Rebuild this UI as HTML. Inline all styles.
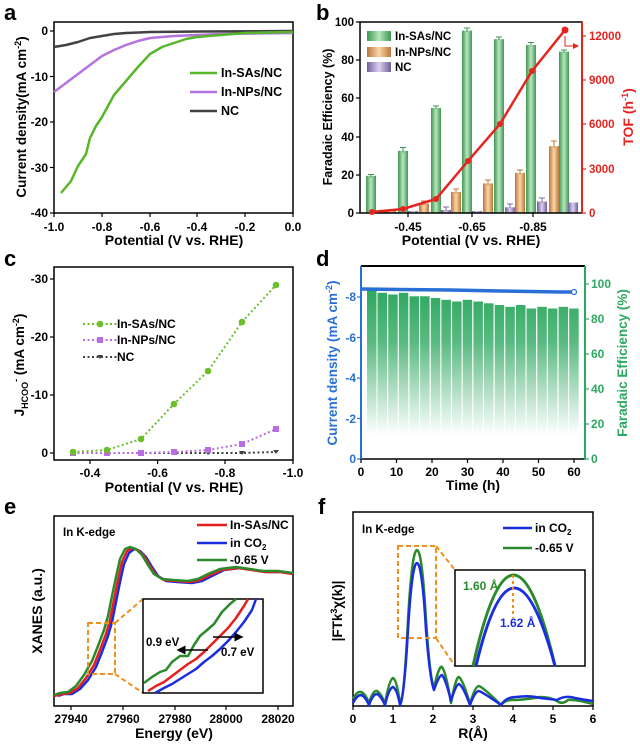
<!DOCTYPE html>
<html><head><meta charset="utf-8"><style>
html,body{margin:0;padding:0;background:#fff}
svg{display:block}
text{font-family:"Liberation Sans",Arial,sans-serif;font-weight:bold}
</style></head><body>
<svg width="640" height="747" viewBox="0 0 640 747" xmlns="http://www.w3.org/2000/svg">
<defs>
<linearGradient id="gG" x1="0" x2="1" y1="0" y2="0"><stop offset="0" stop-color="#3d9752"/><stop offset="0.5" stop-color="#b9e6bf"/><stop offset="1" stop-color="#3d9752"/></linearGradient>
<linearGradient id="gO" x1="0" x2="1" y1="0" y2="0"><stop offset="0" stop-color="#b8773b"/><stop offset="0.5" stop-color="#fcd5a8"/><stop offset="1" stop-color="#b8773b"/></linearGradient>
<linearGradient id="gP" x1="0" x2="1" y1="0" y2="0"><stop offset="0" stop-color="#6f5f98"/><stop offset="0.5" stop-color="#dcd0f0"/><stop offset="1" stop-color="#6f5f98"/></linearGradient>
<linearGradient id="gD" gradientUnits="userSpaceOnUse" x1="0" x2="0" y1="290" y2="435"><stop offset="0" stop-color="#2ea860" stop-opacity="1"/><stop offset="0.35" stop-color="#2ea860" stop-opacity="0.8"/><stop offset="1" stop-color="#2ea860" stop-opacity="0"/></linearGradient>
<marker id="ah" markerWidth="6" markerHeight="6" refX="5" refY="3" orient="auto"><path d="M0,0 L6,3 L0,6 z" fill="#000"/></marker>
<marker id="ahr" markerWidth="6" markerHeight="6" refX="5" refY="3" orient="auto"><path d="M0,0 L6,3 L0,6 z" fill="#e52420"/></marker>
</defs>

<!-- ================= Panel a ================= -->
<text x="4" y="20" font-size="22">a</text>
<g stroke="#000" stroke-width="1.5" fill="none">
<rect x="54" y="22" width="239" height="191"/>
</g>
<g stroke="#000" stroke-width="1.2">
<line x1="54" y1="31" x2="50" y2="31"/><line x1="54" y1="76.5" x2="50" y2="76.5"/><line x1="54" y1="122" x2="50" y2="122"/><line x1="54" y1="167.5" x2="50" y2="167.5"/><line x1="54" y1="213" x2="50" y2="213"/>
<line x1="54" y1="213" x2="54" y2="217"/><line x1="102" y1="213" x2="102" y2="217"/><line x1="150" y1="213" x2="150" y2="217"/><line x1="197" y1="213" x2="197" y2="217"/><line x1="245" y1="213" x2="245" y2="217"/><line x1="293" y1="213" x2="293" y2="217"/>
</g>
<g font-size="12" text-anchor="end">
<text x="48" y="35">0</text><text x="48" y="81">-10</text><text x="48" y="126">-20</text><text x="48" y="172">-30</text><text x="48" y="217">-40</text>
</g>
<g font-size="12" text-anchor="middle">
<text x="54" y="231">-1.0</text><text x="102" y="231">-0.8</text><text x="150" y="231">-0.6</text><text x="197" y="231">-0.4</text><text x="245" y="231">-0.2</text><text x="293" y="231">0.0</text>
</g>
<text x="174" y="245" font-size="14" text-anchor="middle">Potential (V vs. RHE)</text>
<text transform="translate(26,117) rotate(-90)" font-size="13.5" text-anchor="middle">Current density(mA cm<tspan dy="-5" font-size="9">-2</tspan><tspan dy="5">)</tspan></text>
<g fill="none" stroke-width="2.5" stroke-linejoin="round">
<polyline stroke="#424242" points="54,47 66,45 78,42 90,38 102,36 114,34 126,33 150,32 200,31.5 293,31"/>
<polyline stroke="#b473de" points="54,92 66,83 78,74 90,65 102,56 114,50 126,45 138,41 150,38 174,36 221,34 293,33"/>
<polyline stroke="#58b62a" points="61,193 71,181 78,166 82,160 86,154 90,138 96,126 102,117 108,106 114,95 126,81 138,67 150,54 162,47 174,43 186,39 197,37 221,35 245,33 293,32"/>
</g>
<g stroke-width="2.5"><line x1="190" y1="73" x2="217" y2="73" stroke="#58b62a"/><line x1="190" y1="92" x2="217" y2="92" stroke="#b473de"/><line x1="190" y1="111" x2="217" y2="111" stroke="#424242"/></g>
<g font-size="12.5"><text x="221" y="77">In-SAs/NC</text><text x="221" y="96">In-NPs/NC</text><text x="221" y="115">NC</text></g>

<!-- ================= Panel b ================= -->
<text x="316" y="20" font-size="22">b</text>
<!-- bars -->
<g>
<rect x="366" y="175.8" width="10" height="37.2" fill="url(#gG)"/>
<rect x="398" y="150.9" width="10" height="62.1" fill="url(#gG)"/>
<rect x="431" y="108" width="10" height="105" fill="url(#gG)"/>
<rect x="462" y="30.6" width="10" height="182.4" fill="url(#gG)"/>
<rect x="494" y="39.2" width="10" height="173.8" fill="url(#gG)"/>
<rect x="526" y="45" width="10" height="168" fill="url(#gG)"/>
<rect x="559" y="51.6" width="10" height="161.4" fill="url(#gG)"/>
<rect x="386" y="211" width="10" height="2" fill="url(#gO)"/>
<rect x="419" y="203.5" width="10" height="9.5" fill="url(#gO)"/>
<rect x="451" y="192" width="10" height="21" fill="url(#gO)"/>
<rect x="483" y="183.4" width="10" height="29.6" fill="url(#gO)"/>
<rect x="515" y="172.9" width="10" height="40.1" fill="url(#gO)"/>
<rect x="549" y="146.2" width="10" height="66.8" fill="url(#gO)"/>
<rect x="376" y="212" width="10" height="1" fill="url(#gP)"/>
<rect x="408" y="211" width="10" height="2" fill="url(#gP)"/>
<rect x="441" y="210" width="10" height="3" fill="url(#gP)"/>
<rect x="472" y="211" width="10" height="2" fill="url(#gP)"/>
<rect x="505" y="207.3" width="10" height="5.7" fill="url(#gP)"/>
<rect x="537" y="201.5" width="10" height="11.5" fill="url(#gP)"/>
<rect x="568" y="202.5" width="10" height="10.5" fill="url(#gP)"/>
</g>
<g stroke-width="1" fill="none">
<path stroke="#3d9752" d="M368,174.5h6M371,174.5v3M400,147.5h6M403,147.5v5M433,106h6M436,106v3M464,28h6M467,28v4M496,37h6M499,37v3M528,42.5h6M531,42.5v3M561,50h6M564,50v3"/>
<path stroke="#c07a3a" d="M421,201h6M424,201v4M453,189h6M456,189v4M485,180h6M488,180v5M517,170h6M520,170v4M551,141h6M554,141v7"/>
<path stroke="#7a6aa0" d="M507,204h6M510,204v4M539,198h6M542,198v5M443,207h6M446,207v4"/>
</g>
<rect x="360" y="22" width="222" height="191" fill="none" stroke="#000" stroke-width="1.5"/>
<line x1="582" y1="22" x2="582" y2="213" stroke="#e52420" stroke-width="2"/>
<g stroke="#000" stroke-width="1.2">
<line x1="360" y1="213" x2="356" y2="213"/><line x1="360" y1="175" x2="356" y2="175"/><line x1="360" y1="137" x2="356" y2="137"/><line x1="360" y1="98" x2="356" y2="98"/><line x1="360" y1="60" x2="356" y2="60"/><line x1="360" y1="22" x2="356" y2="22"/>
<line x1="408" y1="213" x2="408" y2="217"/><line x1="472" y1="213" x2="472" y2="217"/><line x1="533" y1="213" x2="533" y2="217"/>
</g>
<g stroke="#e52420" stroke-width="1.2">
<line x1="582" y1="213" x2="586" y2="213"/><line x1="582" y1="169" x2="586" y2="169"/><line x1="582" y1="124" x2="586" y2="124"/><line x1="582" y1="80" x2="586" y2="80"/><line x1="582" y1="36" x2="586" y2="36"/>
</g>
<g font-size="11.5" text-anchor="end">
<text x="354" y="217">0</text><text x="354" y="179">20</text><text x="354" y="141">40</text><text x="354" y="102">60</text><text x="354" y="64">80</text><text x="354" y="26">100</text>
</g>
<g font-size="11.5" fill="#e52420">
<text x="589" y="217">0</text><text x="589" y="173">3000</text><text x="589" y="128">6000</text><text x="589" y="84">9000</text><text x="589" y="40">12000</text>
</g>
<g font-size="12" text-anchor="middle">
<text x="408" y="231">-0.45</text><text x="472" y="231">-0.65</text><text x="533" y="231">-0.85</text>
</g>
<text x="471" y="245" font-size="14" text-anchor="middle">Potential (V vs. RHE)</text>
<text transform="translate(332,117) rotate(-90)" font-size="12.5" text-anchor="middle">Faradaic Efficiency (%)</text>
<text transform="translate(633,117) rotate(-90)" font-size="14" text-anchor="middle" fill="#e52420">TOF (h<tspan dy="-5" font-size="9">-1</tspan><tspan dy="5">)</tspan></text>
<polyline fill="none" stroke="#e52420" stroke-width="2.5" points="372,212 403,209 436,199 468,161 500,124 532,71 565,30"/>
<g fill="#e52420"><circle cx="372" cy="212" r="3"/><circle cx="403" cy="209" r="3"/><circle cx="436" cy="199" r="3"/><circle cx="468" cy="161" r="3"/><circle cx="500" cy="124" r="3"/><circle cx="532" cy="71" r="3"/><circle cx="565" cy="30" r="3.5"/></g>
<path d="M565,36 v10 h13" fill="none" stroke="#e52420" stroke-width="1" marker-end="url(#ahr)"/>
<rect x="367" y="31" width="24" height="10" fill="url(#gG)"/><rect x="367" y="47" width="24" height="10" fill="url(#gO)"/><rect x="367" y="62" width="24" height="10" fill="url(#gP)"/>
<g font-size="11.5"><text x="395" y="40">In-SAs/NC</text><text x="395" y="56">In-NPs/NC</text><text x="395" y="71">NC</text></g>

<!-- ================= Panel c ================= -->
<text x="4" y="266" font-size="22">c</text>
<rect x="54" y="267" width="239" height="193" fill="none" stroke="#000" stroke-width="1.5"/>
<g stroke="#000" stroke-width="1.2">
<line x1="54" y1="453" x2="50" y2="453"/><line x1="54" y1="395" x2="50" y2="395"/><line x1="54" y1="337" x2="50" y2="337"/><line x1="54" y1="279" x2="50" y2="279"/>
<line x1="90" y1="460" x2="90" y2="464"/><line x1="157.6" y1="460" x2="157.6" y2="464"/><line x1="225" y1="460" x2="225" y2="464"/><line x1="293" y1="460" x2="293" y2="464"/>
</g>
<g font-size="12" text-anchor="end">
<text x="48" y="457">0</text><text x="48" y="399">-10</text><text x="48" y="341">-20</text><text x="48" y="283">-30</text>
</g>
<g font-size="12" text-anchor="middle">
<text x="90" y="477">-0.4</text><text x="157.6" y="477">-0.6</text><text x="225" y="477">-0.8</text><text x="293" y="477">-1.0</text>
</g>
<text x="174" y="492" font-size="14" text-anchor="middle">Potential (V vs. RHE)</text>
<text transform="translate(24,365) rotate(-90)" font-size="13.5" text-anchor="middle">J<tspan dy="4" font-size="9">HCOO</tspan><tspan dy="-9" font-size="9">-</tspan><tspan dy="5"> (mA cm</tspan><tspan dy="-5" font-size="9">-2</tspan><tspan dy="5">)</tspan></text>
<g fill="none" stroke-width="2" stroke-dasharray="2,2.5">
<polyline stroke="#424242" points="73,453 107,453 141,453 174,453 208,453 242,453 276,452"/>
<polyline stroke="#b86ee0" points="73,453 107,453 141,453 174,452 208,450 242,444 276,429"/>
<polyline stroke="#6cbf2a" points="73,452 107,450 141,439 174,404 208,371 242,322 276,285"/>
</g>
<g fill="#424242"><path d="M70,451h6l-3,4z M104,451h6l-3,4z M138,451h6l-3,4z M171,451h6l-3,4z M205,451h6l-3,4z M239,451h6l-3,4z M273,450h6l-3,4z"/></g>
<g fill="#b86ee0"><rect x="70" y="450" width="6" height="6"/><rect x="104" y="450" width="6" height="6"/><rect x="138" y="450" width="6" height="6"/><rect x="171" y="449" width="6" height="6"/><rect x="205" y="447" width="6" height="6"/><rect x="239" y="441" width="6" height="6"/><rect x="273" y="426" width="6" height="6"/></g>
<g fill="#6cbf2a"><circle cx="73" cy="452" r="3.3"/><circle cx="107" cy="450" r="3.3"/><circle cx="141" cy="439" r="3.3"/><circle cx="174" cy="404" r="3.3"/><circle cx="208" cy="371" r="3.3"/><circle cx="242" cy="322" r="3.3"/><circle cx="276" cy="285" r="3.3"/></g>
<g stroke-width="2" stroke-dasharray="2,2.5"><line x1="83" y1="324" x2="117" y2="324" stroke="#6cbf2a"/><line x1="83" y1="340" x2="117" y2="340" stroke="#b86ee0"/><line x1="83" y1="357" x2="117" y2="357" stroke="#424242"/></g>
<circle cx="100" cy="324" r="3.3" fill="#6cbf2a"/><rect x="97" y="337" width="6" height="6" fill="#b86ee0"/><path d="M97,355h6l-3,4z" fill="#424242"/>
<g font-size="12"><text x="117" y="328">In-SAs/NC</text><text x="117" y="344">In-NPs/NC</text><text x="117" y="361">NC</text></g>

<!-- ================= Panel d ================= -->
<text x="316" y="266" font-size="22">d</text>
<g fill="url(#gD)">
<rect x="367" y="289.3" width="9.5" height="169.7"/><rect x="377.5" y="292.8" width="9.5" height="166.2"/><rect x="388.2" y="294.5" width="9.5" height="164.5"/><rect x="398.8" y="292.8" width="9.5" height="166.2"/><rect x="409.5" y="296.3" width="9.5" height="162.7"/><rect x="420.1" y="296.3" width="9.5" height="162.7"/><rect x="430.8" y="298" width="9.5" height="161"/><rect x="441.4" y="299.8" width="9.5" height="159.2"/><rect x="452.1" y="301.5" width="9.5" height="157.5"/><rect x="462.7" y="299.8" width="9.5" height="159.2"/><rect x="473.4" y="301.5" width="9.5" height="157.5"/><rect x="484" y="303.3" width="9.5" height="155.7"/><rect x="494.7" y="305" width="9.5" height="154"/><rect x="505.3" y="306.8" width="9.5" height="152.2"/><rect x="516" y="305" width="9.5" height="154"/><rect x="526.6" y="308.5" width="9.5" height="150.5"/><rect x="537.3" y="306.8" width="9.5" height="152.2"/><rect x="547.9" y="308.5" width="9.5" height="150.5"/><rect x="558.6" y="306.8" width="9.5" height="152.2"/><rect x="569.2" y="308.5" width="9.5" height="150.5"/>
</g>
<polyline fill="none" stroke="#2a6fd6" stroke-width="3.5" points="362,289 400,289.5 450,290 500,291 560,292 573,292"/>
<circle cx="574" cy="292" r="2.5" fill="#fff" stroke="#2a6fd6" stroke-width="1.2"/>
<line x1="361" y1="266" x2="585" y2="266" stroke="#000" stroke-width="2"/>
<line x1="361" y1="459" x2="585" y2="459" stroke="#000" stroke-width="1.5"/>
<line x1="361" y1="266" x2="361" y2="460" stroke="#2a6fd6" stroke-width="2"/>
<line x1="585" y1="266" x2="585" y2="460" stroke="#2ea860" stroke-width="2"/>
<g stroke="#2a6fd6" stroke-width="1.2"><line x1="361" y1="459" x2="357" y2="459"/><line x1="361" y1="418.5" x2="357" y2="418.5"/><line x1="361" y1="378" x2="357" y2="378"/><line x1="361" y1="337.5" x2="357" y2="337.5"/><line x1="361" y1="297" x2="357" y2="297"/></g>
<g stroke="#2ea860" stroke-width="1.2"><line x1="585" y1="459" x2="589" y2="459"/><line x1="585" y1="424" x2="589" y2="424"/><line x1="585" y1="389" x2="589" y2="389"/><line x1="585" y1="354" x2="589" y2="354"/><line x1="585" y1="319" x2="589" y2="319"/><line x1="585" y1="284" x2="589" y2="284"/></g>
<g stroke="#000" stroke-width="1.2"><line x1="361" y1="459" x2="361" y2="463"/><line x1="396.5" y1="459" x2="396.5" y2="463"/><line x1="432" y1="459" x2="432" y2="463"/><line x1="467.5" y1="459" x2="467.5" y2="463"/><line x1="503" y1="459" x2="503" y2="463"/><line x1="538.5" y1="459" x2="538.5" y2="463"/><line x1="574" y1="459" x2="574" y2="463"/></g>
<g font-size="12" text-anchor="end" fill="#2a6fd6">
<text x="356" y="463">0</text><text x="356" y="423">-2</text><text x="356" y="382">-4</text><text x="356" y="342">-6</text><text x="356" y="301">-8</text>
</g>
<g font-size="12" fill="#2ea860">
<text x="591" y="463">0</text><text x="591" y="428">20</text><text x="591" y="393">40</text><text x="591" y="358">60</text><text x="591" y="323">80</text><text x="591" y="288">100</text>
</g>
<g font-size="12" text-anchor="middle">
<text x="361" y="476">0</text><text x="396.5" y="476">10</text><text x="432" y="476">20</text><text x="467.5" y="476">30</text><text x="503" y="476">40</text><text x="538.5" y="476">50</text><text x="574" y="476">60</text>
</g>
<text x="473" y="490" font-size="14" text-anchor="middle">Time (h)</text>
<text transform="translate(337,363) rotate(-90)" font-size="13.5" text-anchor="middle" fill="#2a6fd6">Current density (mA cm<tspan dy="-5" font-size="9">-2</tspan><tspan dy="5">)</tspan></text>
<text transform="translate(627,363) rotate(-90)" font-size="13.5" text-anchor="middle" fill="#2ea860">Faradaic Efficiency (%)</text>

<!-- ================= Panel e ================= -->
<text x="4" y="514" font-size="22">e</text>
<rect x="54" y="516" width="239" height="190" fill="none" stroke="#000" stroke-width="1.5"/>
<g stroke="#000" stroke-width="1.2"><line x1="71" y1="706" x2="71" y2="710"/><line x1="123" y1="706" x2="123" y2="710"/><line x1="175" y1="706" x2="175" y2="710"/><line x1="226" y1="706" x2="226" y2="710"/><line x1="278" y1="706" x2="278" y2="710"/></g>
<g font-size="12" text-anchor="middle"><text x="71" y="723">27940</text><text x="123" y="723">27960</text><text x="175" y="723">27980</text><text x="226" y="723">28000</text><text x="278" y="723">28020</text></g>
<text x="174" y="738" font-size="14" text-anchor="middle">Energy (eV)</text>
<text transform="translate(42,611) rotate(-90)" font-size="14" text-anchor="middle">XANES (a.u.)</text>
<text x="63" y="536" font-size="11.5">In K-edge</text>
<g fill="none" stroke-width="2.5" stroke-linejoin="round">
<polyline stroke="#1a2ee0" transform="translate(2,0)" points="56,696 62,694 70,694 78,689 86,680 94,667 100,652 106,636 110,622 114,602 118,582 122,564 127,553 132,549 138,551 144,557 150,567 156,576 164,581 175,582 190,583 200,581 210,576 222,570 238,568 252,570 265,572 280,572 291,574"/>
<polyline stroke="#e51e1e" points="54,696 62,694 70,693 78,688 86,678 94,665 100,650 106,634 110,620 114,600 118,580 122,562 127,551 132,548 138,550 144,556 150,566 156,575 164,580 175,581 190,582 200,580 210,575 222,570 238,568 252,570 265,572 280,572 293,574"/>
<polyline stroke="#2b8a2b" transform="translate(-2,0)" points="56,695 62,693 70,692 78,686 86,675 94,661 100,646 106,630 110,616 114,596 118,577 122,559 127,549 132,547 138,549 144,555 150,565 156,574 164,579 175,580 190,581 200,579 210,574 222,569 238,567 252,569 265,571 280,571 295,573"/>
</g>
<g stroke="#f0901e" stroke-width="2" stroke-dasharray="5,3" fill="none">
<rect x="88" y="623" width="27" height="51"/>
<line x1="115" y1="623" x2="143" y2="599"/><line x1="115" y1="674" x2="143" y2="693"/>
</g>
<rect x="143" y="599" width="120" height="94" fill="#fff" stroke="#000" stroke-width="1.5"/>
<g fill="none" stroke-width="2.5" stroke-linejoin="round">
<polyline stroke="#2b8a2b" points="144,683 152,677 160,672 166,670 172,662 180,656 188,656 194,645 200,636 206,631 214,624 222,612 230,604 236,599"/>
<polyline stroke="#e51e1e" points="148,691 156,686 164,682 172,676 180,670 188,664 196,659 204,652 212,644 220,636 228,628 236,618 244,606 248,599"/>
<polyline stroke="#1a2ee0" points="155,693 164,688 172,684 180,679 188,674 196,669 204,662 212,656 220,649 228,641 236,632 244,622 252,610 256,599"/>
</g>
<line x1="208" y1="650" x2="178" y2="650" stroke="#000" stroke-width="1.5" marker-end="url(#ah)"/>
<line x1="213" y1="637" x2="242" y2="637" stroke="#000" stroke-width="1.5" marker-end="url(#ah)"/>
<text x="146" y="646" font-size="11.5">0.9 eV</text>
<text x="221" y="656" font-size="11.5">0.7 eV</text>
<g stroke-width="2.5"><line x1="197" y1="525" x2="227" y2="525" stroke="#e51e1e"/><line x1="197" y1="543" x2="227" y2="543" stroke="#1a2ee0"/><line x1="197" y1="560" x2="227" y2="560" stroke="#2b8a2b"/></g>
<g font-size="12"><text x="230" y="529">In-SAs/NC</text><text x="230" y="547">in CO<tspan dy="3" font-size="8">2</tspan></text><text x="230" y="564">-0.65 V</text></g>

<!-- ================= Panel f ================= -->
<text x="318" y="514" font-size="22">f</text>
<rect x="353" y="512" width="240" height="194" fill="none" stroke="#000" stroke-width="1.5"/>
<g stroke="#000" stroke-width="1.2"><line x1="353" y1="706" x2="353" y2="710"/><line x1="393" y1="706" x2="393" y2="710"/><line x1="433" y1="706" x2="433" y2="710"/><line x1="473" y1="706" x2="473" y2="710"/><line x1="513" y1="706" x2="513" y2="710"/><line x1="553" y1="706" x2="553" y2="710"/><line x1="593" y1="706" x2="593" y2="710"/></g>
<g font-size="12" text-anchor="middle"><text x="353" y="723">0</text><text x="393" y="723">1</text><text x="433" y="723">2</text><text x="473" y="723">3</text><text x="513" y="723">4</text><text x="553" y="723">5</text><text x="593" y="723">6</text></g>
<text x="473" y="738" font-size="14" text-anchor="middle">R(Å)</text>
<text transform="translate(342,611) rotate(-90)" font-size="13.5" text-anchor="middle">|FTk<tspan dy="-5" font-size="9">3</tspan><tspan dy="5">χ(k)|</tspan></text>
<text x="362" y="533" font-size="11.5">In K-edge</text>
<g fill="none" stroke-width="2.5" stroke-linejoin="round">
<path stroke="#2b8a2b" d="M353,699 Q357,691 361,692 Q365,693 369,703 Q373,690 377,691 Q381,693 385,704 Q389,680 393,678 Q397,680 400,704 Q404,700 408,620 Q412,550 417,550 Q422,550 426,620 Q430,680 434,688 Q439,665 442,667 Q446,672 451,703 Q456,676 459,677 Q463,680 470,704 Q475,686 479,686 Q484,688 501,705 Q506,699 516,700 Q530,699 540,697 Q550,697 557,701 Q562,705 568,700 Q575,699 593,704"/>
<path stroke="#1a2ee0" d="M353,703 Q357,695 361,695 Q365,696 369,705 Q373,694 377,694 Q381,696 385,705 Q389,688 393,687 Q397,689 400,705 Q404,700 408,630 Q412,563 417,563 Q422,563 426,630 Q430,680 434,690 Q439,675 442,675 Q446,680 451,701 Q456,684 459,684 Q463,686 470,705 Q475,691 479,691 Q484,693 501,705 Q506,697 516,697 Q530,695 540,698 Q550,699 557,700 Q565,695 575,698 Q585,700 593,701"/>
</g>
<g stroke="#f0901e" stroke-width="2" stroke-dasharray="5,3" fill="none">
<rect x="398" y="546" width="38" height="92"/>
<line x1="436" y1="546" x2="455" y2="570"/><line x1="436" y1="638" x2="455" y2="666"/>
</g>
<rect x="455" y="570" width="130" height="96" fill="#fff" stroke="#000" stroke-width="1.5"/>
<g fill="none" stroke-width="3">
<path stroke="#2b8a2b" d="M473,666 Q513,484 555,666"/>
<path stroke="#1a2ee0" d="M476,666 Q513,510 555,666"/>
</g>
<line x1="513" y1="575" x2="513" y2="618" stroke="#f0901e" stroke-width="2" stroke-dasharray="3,3"/>
<text x="463" y="590" font-size="12" fill="#2b8a2b">1.60 Å</text>
<text x="500" y="627" font-size="12" fill="#1a2ee0">1.62 Å</text>
<g stroke-width="2.5"><line x1="503" y1="528" x2="532" y2="528" stroke="#1a2ee0"/><line x1="503" y1="548" x2="532" y2="548" stroke="#2b8a2b"/></g>
<g font-size="12"><text x="535" y="532">in CO<tspan dy="3" font-size="8">2</tspan></text><text x="535" y="552">-0.65 V</text></g>
</svg>
</body></html>
